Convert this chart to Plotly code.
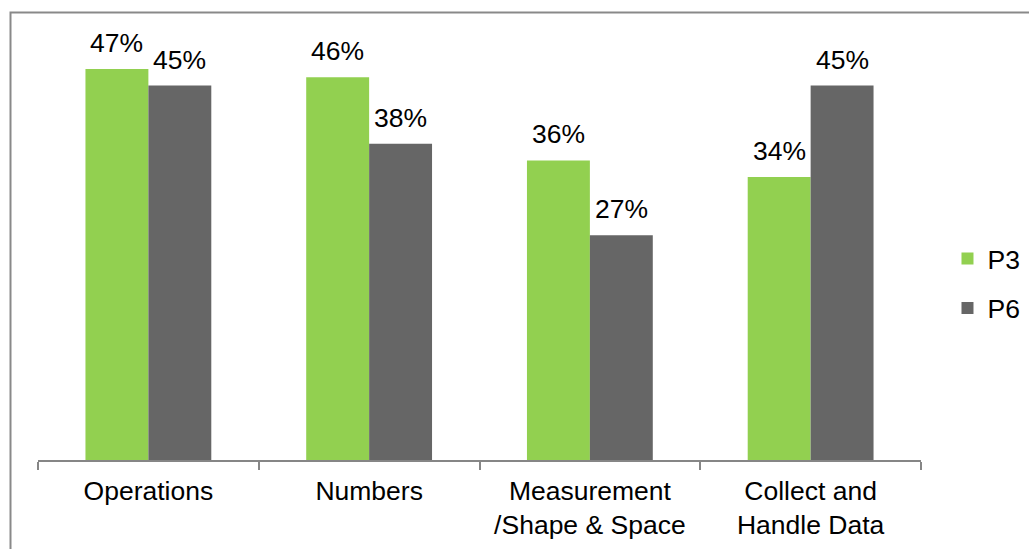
import plotly.graph_objects as go

categories = ["Operations", "Numbers", "Measurement<br>/Shape & Space", "Collect and<br>Handle Data"]
p3_values = [0.47, 0.46, 0.36, 0.34]
p6_values = [0.45, 0.38, 0.27, 0.45]
p3_labels = ["47%", "46%", "36%", "34%"]
p6_labels = ["45%", "38%", "27%", "45%"]

GREEN = "#92D050"
GRAY = "#666666"
FONT = "Arial, Liberation Sans, sans-serif"
FS = 26.5

fig = go.Figure()
fig.add_trace(go.Bar(name="P3", x=categories, y=p3_values, marker=dict(color=GREEN, line=dict(width=0)),
                     legendgroup="a"))
fig.add_trace(go.Bar(name="P6", x=categories, y=p6_values, marker=dict(color=GRAY, line=dict(width=0)),
                     legendgroup="b"))

annotations = []
for cat, v, lab in zip(categories, p3_values, p3_labels):
    annotations.append(dict(x=cat, y=v, xref="x", yref="y", text=lab, showarrow=False,
                            xshift=-31.5, yshift=9, yanchor="bottom",
                            font=dict(size=FS, color="black", family=FONT)))
for cat, v, lab in zip(categories, p6_values, p6_labels):
    annotations.append(dict(x=cat, y=v, xref="x", yref="y", text=lab, showarrow=False,
                            xshift=31.5, yshift=9, yanchor="bottom",
                            font=dict(size=FS, color="black", family=FONT)))

fig.update_layout(
    width=1029, height=549,
    margin=dict(l=38, r=108, t=44, b=89, autoexpand=False),
    paper_bgcolor="white", plot_bgcolor="white",
    barmode="group", bargap=0.43, bargroupgap=0,
    font=dict(family=FONT, size=FS, color="black"),
    showlegend=True,
    legend=dict(x=1.030, xanchor="left", y=0.425, yanchor="middle",
                font=dict(size=FS, color="black", family=FONT),
                tracegroupgap=12, itemwidth=30, bgcolor="rgba(0,0,0,0)"),
    annotations=annotations,
    shapes=[dict(type="rect", xref="paper", yref="paper",
                 x0=(10.5 - 38) / 883, x1=1.3, y0=-0.4, y1=(460 - 12.5) / 416,
                 line=dict(color="#898989", width=2), fillcolor="rgba(0,0,0,0)", layer="above")],
    xaxis=dict(showline=True, linecolor="#868686", linewidth=1.5,
               ticks="outside", ticklen=8, tickcolor="#868686", tickwidth=1.5,
               tickson="boundaries", ticklabelstandoff=6,
               tickfont=dict(size=FS, color="black", family=FONT),
               showgrid=False, zeroline=False),
    yaxis=dict(range=[0, 0.5], visible=False, showgrid=False, zeroline=False),
)

fig.write_html("out.html")
